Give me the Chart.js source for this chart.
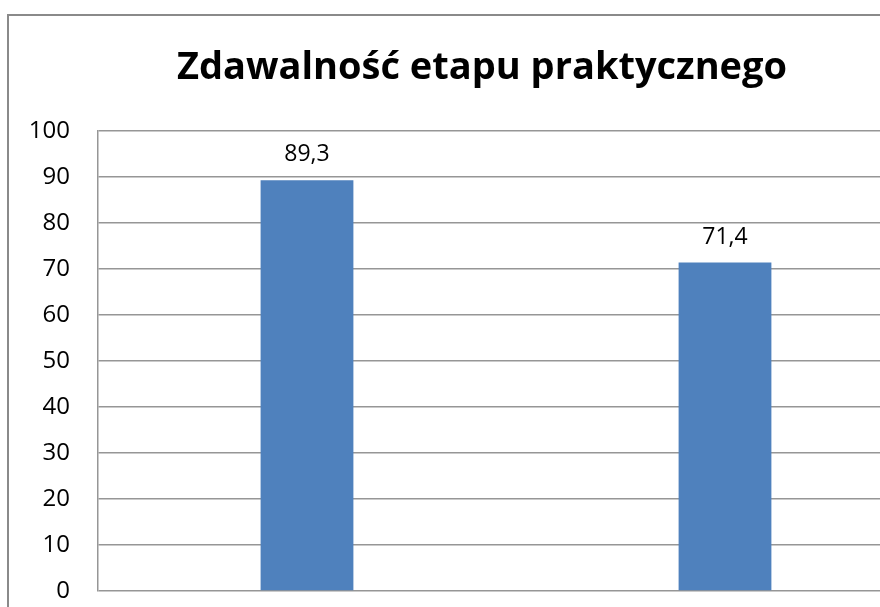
<!DOCTYPE html>
<html lang="pl">
<head>
    <meta charset="UTF-8">
    <title>Zdawalność etapu praktycznego</title>
    <style>
        body {
            margin: 0;
            background: #fff;
        }
        .wrap {
            width: 880px;
            height: 607px;
            overflow: hidden;
            position: relative;
            background: #fff;
        }
        #chart {
            position: absolute;
            left: 0;
            top: 0;
            width: 964px;
            height: 607px;
        }
        /* top and left edge of the Excel chart frame */
        .frame {
            position: absolute;
            left: 7px;
            top: 14px;
            width: 900px;
            height: 700px;
            border-left: 2px solid #8a8a8a;
            border-top: 2px solid #8a8a8a;
            pointer-events: none;
        }
    </style>
</head>
<body>
    <div class="wrap">
        <canvas id="chart" width="964" height="607"></canvas>
        <div class="frame"></div>
    </div>

    <script src="https://cdn.jsdelivr.net/npm/chart.js"></script>
    <script>
        // chart data (category names are cut off below the picture)
        const categories = ['', ''];
        const passRates = [89.3, 71.4];
        const yTicks = [0, 10, 20, 30, 40, 50, 60, 70, 80, 90, 100];

        const gridGray = '#969696';
        const fontFamily = '"Open Sans", sans-serif';

        // values above the bars, decimal comma
        const valueLabels = {
            id: 'valueLabels',
            afterDatasetsDraw(chart) {
                const ctx = chart.ctx;
                const meta = chart.getDatasetMeta(0);
                ctx.save();
                ctx.font = '23px ' + fontFamily;
                ctx.fillStyle = '#000';
                ctx.textAlign = 'center';
                ctx.textBaseline = 'alphabetic';
                meta.data.forEach((bar, i) => {
                    const txt = passRates[i].toFixed(1).replace('.', ',');
                    ctx.fillText(txt, bar.x, bar.y - 19);
                });
                ctx.restore();
            }
        };

        new Chart(document.getElementById('chart'), {
            type: 'bar',
            data: {
                labels: categories,
                datasets: [{
                    data: passRates,
                    backgroundColor: '#4F81BD',
                    borderWidth: 0,
                    categoryPercentage: 1,
                    barPercentage: 0.222
                }]
            },
            options: {
                responsive: false,
                animation: false,
                layout: {
                    padding: { left: 30, right: 30, top: 0, bottom: 16 }
                },
                plugins: {
                    legend: { display: false },
                    tooltip: { enabled: false },
                    title: {
                        display: true,
                        text: 'Zdawalność etapu praktycznego',
                        color: '#000',
                        font: { family: fontFamily, size: 38, weight: 'bold', lineHeight: 1.2 },
                        padding: { top: 45, bottom: 40.4 }
                    }
                },
                scales: {
                    x: {
                        grid: { display: false, drawTicks: false },
                        border: { display: false },
                        ticks: { display: false }
                    },
                    y: {
                        min: 0,
                        max: 100,
                        afterBuildTicks(scale) {
                            scale.ticks = yTicks.map(v => ({ value: v }));
                        },
                        afterFit(scale) {
                            scale.width = 68;
                            scale.paddingTop = 0;
                            scale.paddingBottom = 0;
                        },
                        grid: { color: gridGray, lineWidth: 1.5, drawTicks: false },
                        border: { display: true, color: gridGray, width: 1.5 },
                        ticks: {
                            color: '#000',
                            padding: 28,
                            font: { family: fontFamily, size: 24 }
                        }
                    }
                }
            },
            plugins: [valueLabels]
        });
    </script>
</body>
</html>
